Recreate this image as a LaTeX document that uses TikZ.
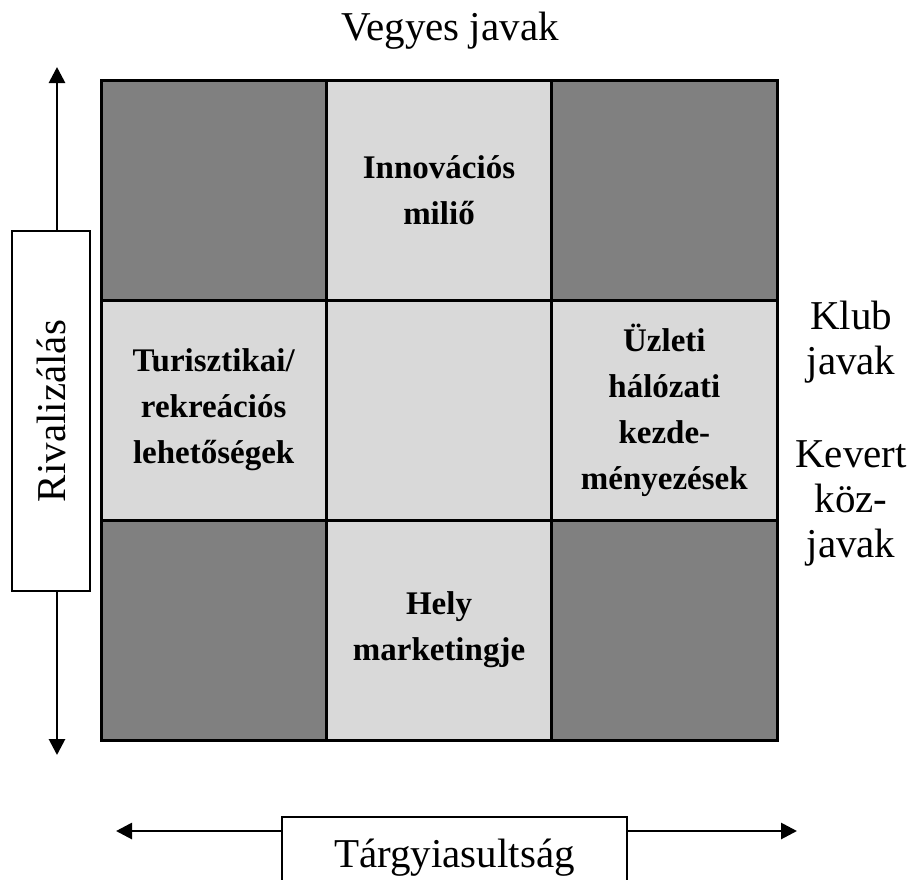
\documentclass[tikz,border=0pt]{standalone}
\usepackage{fontspec}
\setmainfont{Liberation Serif}
\usetikzlibrary{arrows.meta}
\begin{document}
\begin{tikzpicture}[x=1pt,y=-1pt,
  cell/.style={draw=black, line width=3pt, minimum width=225.33pt, minimum height=220pt, inner sep=0pt,
    align=center, font=\fontsize{33}{46}\selectfont\bfseries},
  dark/.style={cell, fill=black!50},
  light/.style={cell, fill=black!15},
  reg/.style={font=\fontsize{41}{45}\selectfont, align=center, inner sep=0pt},
  axisarrow/.style={line width=2.8pt, {Triangle[length=16pt,width=16pt]}-{Triangle[length=16pt,width=16pt]}},
  labelbox/.style={draw=black, fill=white, line width=2pt, font=\fontsize{41}{45}\selectfont}
]
\useasboundingbox (0,0) rectangle (923,879);

% grid cells
\node[dark]  (c11) at (213.67,190) {};
\node[light] (c12) at (439,190) {Innovációs\\miliő};
\node[dark]  (c13) at (664.33,190) {};
\node[light] (c21) at (213.67,410) {Turisztikai/\\rekreációs\\lehetőségek};
\node[light] (c22) at (439,410) {};
\node[light] (c23) at (664.33,410) {Üzleti\\hálózati\\kezde-\\ményezések};
\node[dark]  (c31) at (213.67,630) {};
\node[light] (c32) at (439,630) {Hely\\marketingje};
\node[dark]  (c33) at (664.33,630) {};

% top label
\node[reg] (vegyes) at (450,31) {Vegyes javak};

% right labels
\node[reg] (klub) at (851,342) {Klub\\javak};
\node[reg] (kevert) at (851,503) {Kevert\\köz-\\javak};

% vertical axis
\coordinate (vtop) at (57,67);
\coordinate (vbot) at (57,755);
\draw[axisarrow] (vbot) -- (vtop);
\node[labelbox, rotate=90, minimum width=360pt, minimum height=78pt, inner sep=0pt] (rival) at (51,411) {Rivalizálás};

% horizontal axis
\coordinate (hl) at (116,831);
\coordinate (hr) at (797,831);
\draw[axisarrow] (hl) -- (hr);
\node[labelbox, anchor=north, minimum width=345pt, inner xsep=0pt, inner ysep=0pt, text height=50pt, text depth=40pt] (targy) at (454.5,816) {Tárgyiasultság};
\end{tikzpicture}
\end{document}
